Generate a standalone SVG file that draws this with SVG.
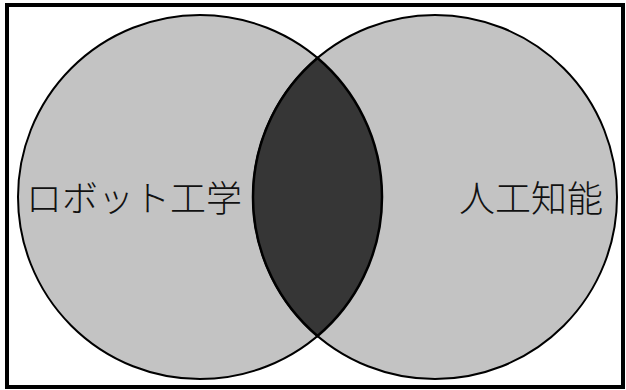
<svg xmlns="http://www.w3.org/2000/svg" width="626" height="390" viewBox="0 0 626 390">
<style>
.set{fill:#c3c3c3;stroke:#000;stroke-width:2}
.lens{fill:#363636;stroke:#000;stroke-width:2.5}
.lbl{font-family:"Noto Sans CJK JP","Noto Sans",sans-serif;font-size:36px;font-weight:300;fill:#111}
</style>
<rect x="0" y="0" width="626" height="390" fill="#fff"/>
<rect id="frame" x="7" y="5" width="616" height="382" fill="none" stroke="#000" stroke-width="4"/>
<g id="robotics">
<circle class="set" cx="200" cy="197" r="182"/>
</g>
<g id="ai">
<circle class="set" cx="435" cy="197" r="182"/>
</g>
<g id="intersection">
<path class="lens" d="M317.5,58 A182,182 0 0,0 317.5,336 A182,182 0 0,0 317.5,58 Z"/>
</g>
<g id="labels">
<text class="lbl" x="26" y="212">ロボット工学</text>
<text class="lbl" x="459" y="212">人工知能</text>
</g>
</svg>
